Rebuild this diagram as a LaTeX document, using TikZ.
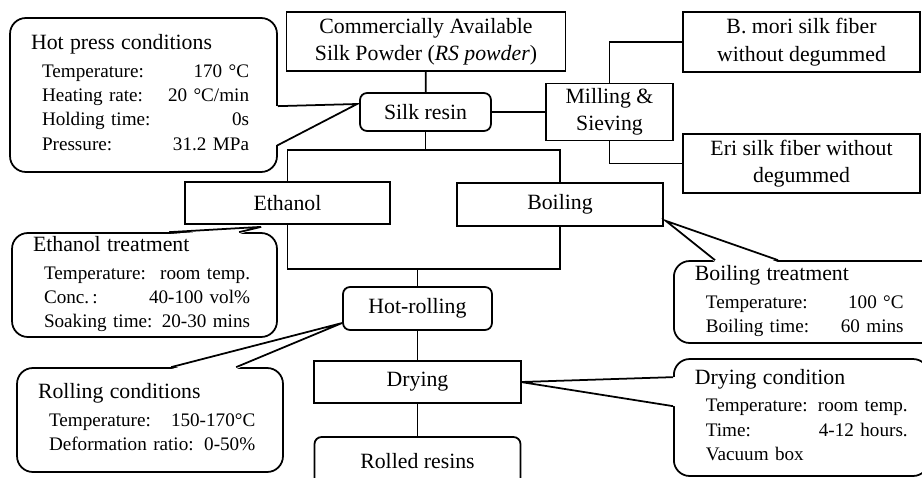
\documentclass[tikz,border=0pt]{standalone}
\usepackage{fontspec}
\setmainfont{Liberation Serif}
\usetikzlibrary{calc}

% title line and rows of a condition box
\newlength{\labw}
\newcommand{\ctitle}[1]{\multicolumn{2}{@{}l@{}}{\fontsize{12.4}{15}\selectfont #1}}
\newcommand{\crow}[2]{\makebox[\labw][l]{#1} & #2}

\begin{document}
\begin{tikzpicture}[x=0.02cm, y=-0.02cm, line width=1pt,
    box/.style={draw, align=center, inner sep=0pt, font=\fontsize{12.4}{15.6}\selectfont},
    rbox/.style={box, rounded corners=4pt},
    callbox/.style={draw, rounded corners=9pt, align=left, inner xsep=0.42cm, inner ysep=0pt,
        font=\fontsize{10.9}{13.8}\selectfont}]
        \useasboundingbox (0,0) rectangle (922,477);
        \clip (0,0) rectangle (922,477);

        %% process boxes
        \node[box, minimum width=5.58cm, minimum height=1.18cm] (powder) at (426,41.5)
            {Commercially Available\\Silk Powder (\textit{RS powder})};
        \node[rbox, minimum width=2.62cm, minimum height=0.76cm] (resin) at (425.5,112) {Silk resin};
        \node[box, minimum width=2.54cm, minimum height=1.14cm] (mill) at (609.5,112) {Milling \&\\Sieving};
        \node[box, minimum width=4.74cm, minimum height=1.2cm] (bmori) at (801.5,42)
            {B. mori silk fiber\\without degummed};
        \node[box, minimum width=4.74cm, minimum height=1.18cm] (eri) at (801.5,163.5)
            {Eri silk fiber without\\degummed};
        \node[box, minimum width=4.1cm, minimum height=0.84cm] (ethanol) at (287.5,203) {Ethanol};
        \node[box, minimum width=4.12cm, minimum height=0.86cm] (boiling) at (560,204.5) {Boiling};
        \node[rbox, minimum width=2.98cm, minimum height=0.86cm] (hotroll) at (417.5,308.5) {Hot-rolling};
        \node[box, minimum width=4.14cm, minimum height=0.84cm] (drying) at (417.5,382) {Drying};
        \node[rbox, minimum width=4.12cm, minimum height=0.96cm] (rolled) at (417.5,461) {Rolled resins};

        %% connections
        \coordinate (split) at (425.5,150);
        \coordinate (join) at (417.5,269);
        \draw (powder) -- (resin);
        \draw (resin) -- (mill);
        \draw (mill.north) |- (bmori);
        \draw (mill.south) |- (eri);
        \draw (resin) -- (split);
        \draw (ethanol) |- (split) -| (boiling);
        \draw (ethanol) |- (join) -| (boiling);
        \draw (join) -- (hotroll);
        \draw (hotroll) -- (drying);
        \draw (drying) -- (rolled);

        %% condition boxes
        \node[callbox, text width=4.5cm, minimum height=3.08cm] (hotpress) at (143.5,95) {%
            \setlength{\labw}{2.52cm}%
            \begin{tabular}{@{\hspace{0.22cm}}l@{}r@{}}
            \ctitle{Hot press conditions}\\[2pt]
            \crow{Temperature:}{170 °C}\\
            \crow{Heating rate:}{20 °C/min}\\
            \crow{Holding time:}{0s}\\
            \crow{Pressure:}{31.2 MPa}
            \end{tabular}};
        \node[callbox, text width=4.46cm, minimum height=2.08cm] (ethtreat) at (144.5,285) {%
            \setlength{\labw}{2.1cm}%
            \begin{tabular}{@{\hspace{0.22cm}}l@{}r@{}}
            \ctitle{Ethanol treatment}\\[2pt]
            \crow{Temperature:}{room temp.}\\
            \crow{Conc.\,:}{40-100 vol\%}\\
            \crow{Soaking time:}{20-30 mins}
            \end{tabular}};
        \node[callbox, text width=4.48cm, minimum height=2.08cm] (rollcond) at (150,420) {%
            \setlength{\labw}{2.44cm}%
            \begin{tabular}{@{\hspace{0.22cm}}l@{}r@{}}
            \ctitle{Rolling conditions}\\[2pt]
            \crow{Temperature:}{150-170°C}\\
            \crow{Deformation ratio:}{0-50\%}
            \end{tabular}};
        \node[callbox, text width=4.6cm, minimum height=1.64cm, anchor=west] (boiltreat) at (673,302) {%
            \setlength{\labw}{2.7cm}%
            \begin{tabular}{@{\hspace{0.22cm}}l@{}r@{}}
            \ctitle{Boiling treatment}\\[2pt]
            \crow{Temperature:}{100 °C}\\
            \crow{Boiling time:}{60 mins}
            \end{tabular}};
        \node[callbox, text width=4.26cm, minimum height=2.34cm, anchor=west] (drycond) at (673,417.5) {%
            \setlength{\labw}{2.24cm}%
            \begin{tabular}{@{\hspace{0.22cm}}l@{}r@{}}
            \ctitle{Drying condition}\\[2pt]
            \crow{Temperature:}{room temp.}\\
            \crow{Time:}{4-12 hours.}\\
            \crow{Vacuum box}{}
            \end{tabular}};

        %% pointers of the condition boxes
        \coordinate (hpA) at ($(hotpress.north east)+(0,89)$);
        \coordinate (hpB) at ($(hotpress.north east)+(0,128)$);
        \coordinate (hpT) at ($(resin.west)+(-2,-8)$);
        \fill[white] ($(hpA)+(-2,0)$) -- (hpT) -- ($(hpB)+(-2,0)$) -- cycle;
        \draw (hpA) -- (hpT) -- (hpB);

        \coordinate (etA) at ($(ethtreat.north west)+(158,0)$);
        \coordinate (etB) at ($(ethtreat.north west)+(228,0)$);
        \coordinate (etT) at ($(ethanol.south west)+(77,2)$);
        \fill[white] ($(etA)+(0,2)$) -- (etT) -- ($(etB)+(0,2)$) -- cycle;
        \draw (etA) -- (etT) -- (etB);

        \coordinate (rcA) at ($(rollcond.north west)+(155,0)$);
        \coordinate (rcB) at ($(rollcond.north west)+(220,0)$);
        \coordinate (rcT) at ($(hotroll.west)+(0,14.5)$);
        \fill[white] ($(rcA)+(0,2)$) -- (rcT) -- ($(rcB)+(0,2)$) -- cycle;
        \draw (rcA) -- (rcT) -- (rcB);

        \coordinate (btA) at ($(boiltreat.north west)+(42,0)$);
        \coordinate (btB) at ($(boiltreat.north west)+(105,0)$);
        \coordinate (btT) at ($(boiling.south east)+(2,-6)$);
        \fill[white] ($(btA)+(0,2)$) -- (btT) -- ($(btB)+(0,2)$) -- cycle;
        \draw (btA) -- (btT) -- (btB);

        \coordinate (dcA) at ($(drycond.north west)+(0,19)$);
        \coordinate (dcB) at ($(drycond.north west)+(0,48)$);
        \coordinate (dcT) at ($(drying.east)+(-1,0)$);
        \fill[white] ($(dcA)+(2,0)$) -- (dcT) -- ($(dcB)+(2,0)$) -- cycle;
        \draw (dcA) -- (dcT) -- (dcB);
\end{tikzpicture}
\end{document}
